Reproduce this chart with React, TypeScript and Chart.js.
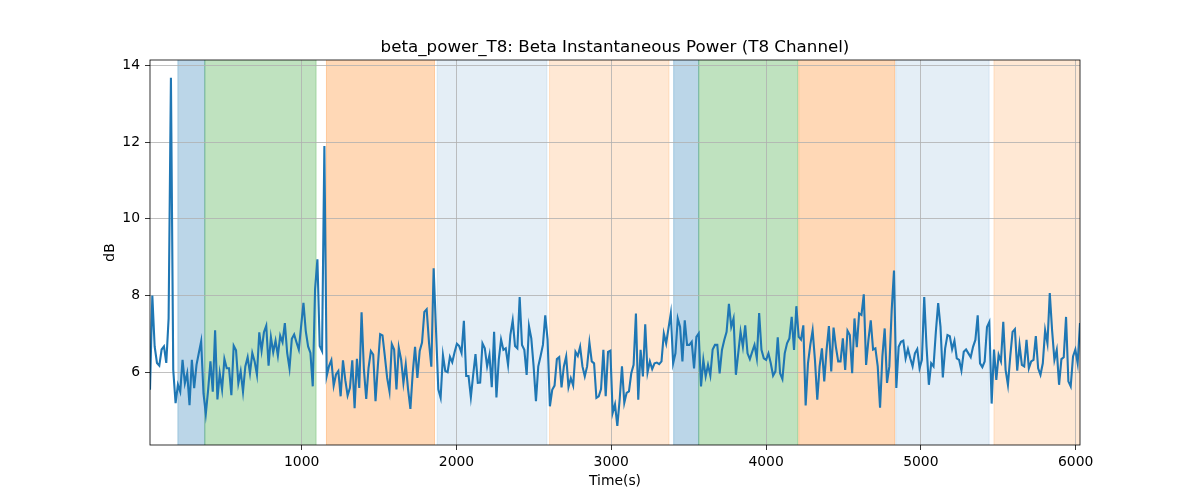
import React, { useEffect, useRef } from "react";
import { Chart, registerables } from "chart.js";

Chart.register(...registerables);

const chartTitle = "beta_power_T8: Beta Instantaneous Power (T8 Channel)";
const xLabel = "Time(s)";
const yLabel = "dB";

// sampling of the time axis (seconds)
const tStart = 20;
const tStep = 15.02;

// beta power (dB), one value per sample
const power: number[] = [
  // 20 s .. ~1040 s
  5.54, 8.0, 6.67, 6.24, 6.17, 6.59, 6.67, 6.24, 7.4, 13.68,
  6.06, 5.19, 5.67, 5.49, 6.32, 5.71, 5.97, 5.14, 6.32, 5.58,
  6.19, 6.5, 6.8, 5.45, 4.91, 5.54, 6.28, 5.49, 7.09, 5.29,
  5.97, 5.55, 6.34, 6.1, 6.1, 5.4, 6.69, 6.57, 5.71, 6.02,
  5.49, 6.15, 6.39, 5.97, 6.5, 6.28, 5.93, 7.04, 6.56, 7.04,
  7.21, 6.17, 6.91, 6.52, 6.82, 6.43, 6.95, 6.78, 7.28, 6.5,
  6.1, 6.87, 6.98, 6.78, 6.59, 7.2, 7.81, 7.07, 6.67,
  // segment 2
  6.5, 5.63, 8.17, 8.94, 6.68, 6.55, 11.9, 5.9, 6.16, 6.31,
  5.65, 5.94, 6.03, 5.37, 6.31, 5.79, 5.39, 5.59, 6.31, 5.06,
  6.35, 5.59, 7.56, 6.07, 5.3, 6.11, 6.55, 6.46, 5.24, 6.16,
  6.99, 6.96, 6.42, 5.85, 5.5, 6.73, 6.59, 5.55, 6.64, 6.33,
  5.72, 6.2, 5.55, 5.04, 5.98, 6.66, 5.85, 6.55, 6.77, 7.57,
  7.64, 6.77, 6.14, 8.71, 7.12, 5.55, 5.33, 6.44, 6.03, 6.0,
  6.4, 6.26, 6.52, 6.74, 6.68, 6.5, 7.34, 5.9, 5.9,
  // segment 3
  5.35, 5.93, 6.47, 5.72, 5.73, 6.75, 6.62, 6.15, 6.45, 5.61,
  7.05, 5.34, 6.32, 6.85, 6.58, 6.62, 6.19, 6.97, 7.35, 6.68,
  6.62, 7.96, 6.71, 6.58, 5.93, 7.2, 6.88, 6.15, 5.24, 6.15,
  6.42, 6.71, 7.48, 6.85, 5.11, 5.54, 5.65, 6.34, 6.39, 5.6,
  6.15, 6.41, 5.61, 5.84, 5.65, 6.53, 6.42, 6.66, 6.15, 5.89,
  6.15, 6.77, 6.28, 6.23, 5.33, 5.37, 5.56, 6.58, 5.37, 6.53,
  6.56, 4.94, 5.16, 4.6, 5.28, 6.15, 5.2, 5.46, 5.5,
  // segment 4
  5.97, 6.19, 7.53, 5.28, 6.58, 5.89, 7.25, 5.99, 6.28, 6.08,
  6.23, 6.25, 6.21, 6.28, 7.01, 6.75, 7.14, 7.53, 6.23, 6.49,
  7.4, 7.18, 6.28, 7.35, 6.71, 6.71, 6.79, 6.1, 6.92, 7.01,
  5.63, 6.32, 5.89, 6.19, 5.91, 6.59, 6.71, 6.71, 5.97, 6.58,
  6.84, 7.05, 7.78, 7.18, 7.4, 5.93, 6.49, 7.05, 6.66, 7.22,
  6.49, 6.34, 6.53, 6.71, 6.36, 7.54, 6.58, 6.36, 6.32, 6.49,
  6.23, 5.91, 6.02, 6.91, 5.97, 5.82, 6.49, 6.75, 6.88,
  // segment 5
  7.44, 6.58, 7.72, 6.92, 6.85, 7.22, 5.13, 6.23, 6.71, 7.09,
  6.32, 5.28, 6.15, 6.62, 5.76, 6.58, 7.2, 6.02, 7.16, 6.66,
  6.28, 6.28, 6.88, 6.06, 7.08, 6.97, 5.97, 7.4, 6.65, 7.53,
  7.49, 8.03, 6.19, 6.84, 7.35, 6.59, 6.62, 6.15, 5.07, 6.41,
  7.14, 5.72, 6.15, 7.61, 8.65, 5.59, 6.66, 6.79, 6.82, 6.36,
  6.6, 6.36, 6.15, 6.49, 6.6, 6.1, 6.32, 7.96, 6.66, 5.67,
  6.23, 6.15, 7.05, 7.8, 7.18, 5.86, 6.62, 6.97, 6.94,
  // segment 6
  6.6, 6.82, 6.36, 6.32, 6.04, 6.53, 6.59, 6.49, 6.39, 6.66,
  6.84, 7.48, 6.23, 6.13, 6.28, 7.18, 7.31, 5.18, 6.59, 5.8,
  6.45, 6.28, 7.31, 6.06, 5.67, 6.41, 7.05, 7.12, 6.04, 6.71,
  6.19, 6.15, 6.84, 6.1, 6.28, 6.32, 6.94, 6.1, 5.93, 6.23,
  7.09, 6.75, 8.06, 7.09, 6.32, 6.58, 5.67, 6.34, 6.39, 7.44,
  5.76, 5.63, 6.41, 6.59, 6.23, 7.28,
];

const xTicks = [1000, 2000, 3000, 4000, 5000, 6000];
const yTicks = [6, 8, 10, 12, 14];
const yMin = 4.1;
const yMax = 14.14;

// shaded phases (seconds)
const spanStarts = [200, 374, 1160, 1875, 2601, 3403, 3565, 4211, 4838, 5472];
const spanEnds = [374, 1093, 1858, 2584, 3373, 3565, 4205, 4831, 5441, 6040];
const spanKinds = ["blue", "green", "orange", "lightblue", "lightorange", "blue", "green", "orange", "lightblue", "lightorange"];

const spanColors: Record<string, string> = {
  blue: "rgba(31,119,180,0.3)",
  green: "rgba(44,160,44,0.3)",
  orange: "rgba(255,127,14,0.3)",
  lightblue: "rgba(31,119,180,0.12)",
  lightorange: "rgba(255,127,14,0.18)",
};

const FONT = "'DejaVu Sans', 'Liberation Sans', sans-serif";

const decorPlugin = {
  id: "decor",
  beforeDraw(chart: any) {
    const { ctx, chartArea: a, scales } = chart;
    const x = scales.x;
    ctx.save();
    ctx.beginPath();
    ctx.rect(a.left, a.top, a.right - a.left, a.bottom - a.top);
    ctx.clip();
    spanStarts.forEach((s, i) => {
      const x0 = x.getPixelForValue(s);
      const x1 = x.getPixelForValue(spanEnds[i]);
      const col = spanColors[spanKinds[i]];
      ctx.fillStyle = col;
      ctx.fillRect(x0, a.top - 2, x1 - x0, a.bottom - a.top + 4);
      ctx.strokeStyle = col;
      ctx.lineWidth = 1;
      ctx.strokeRect(x0, a.top - 2, x1 - x0, a.bottom - a.top + 4);
    });
    ctx.restore();
  },
  afterDatasetsDraw(chart: any) {
    const { ctx, chartArea: a } = chart;
    ctx.save();
    ctx.strokeStyle = "#000";
    ctx.lineWidth = 0.8;
    ctx.strokeRect(a.left, a.top, a.right - a.left, a.bottom - a.top);
    ctx.restore();
  },
  afterDraw(chart: any) {
    const { ctx, chartArea: a } = chart;
    const cx = (a.left + a.right) / 2;
    const cy = (a.top + a.bottom) / 2;
    ctx.save();
    ctx.fillStyle = "#000";
    ctx.font = `16.7px ${FONT}`;
    ctx.textAlign = "center";
    ctx.textBaseline = "alphabetic";
    ctx.fillText(chartTitle, cx, a.top - 8.3);
    ctx.font = `13.9px ${FONT}`;
    ctx.textBaseline = "middle";
    ctx.fillText(xLabel, cx, 481);
    ctx.translate(110.5, cy);
    ctx.rotate(-Math.PI / 2);
    ctx.fillText(yLabel, 0, 0);
    ctx.restore();
  },
};

export default function App() {
  const ref = useRef<HTMLCanvasElement | null>(null);

  useEffect(() => {
    if (!ref.current) return;
    const points = power.map((v, i) => ({ x: tStart + tStep * i, y: v }));
    const xMax = tStart + tStep * (power.length - 1);
    const tickFont = { family: FONT, size: 13.9 };
    const chart = new Chart(ref.current, {
      type: "line",
      data: {
        datasets: [
          {
            data: points,
            borderColor: "#1f77b4",
            borderWidth: 2.1,
            pointRadius: 0,
            tension: 0,
            fill: false,
          },
        ],
      },
      options: {
        animation: false,
        responsive: false,
        devicePixelRatio: 1,
        layout: { padding: { top: 60, right: 120, left: 0, bottom: 0 } },
        plugins: {
          legend: { display: false },
          title: { display: false },
          tooltip: { enabled: false },
        },
        scales: {
          x: {
            type: "linear",
            min: tStart,
            max: xMax,
            afterBuildTicks: (s: any) => {
              s.ticks = xTicks.map((v) => ({ value: v }));
            },
            afterFit: (s: any) => {
              s.height = 55;
            },
            ticks: {
              font: tickFont,
              color: "#000",
              padding: 4,
              maxRotation: 0,
              autoSkip: false,
              callback: (v: any) => String(v),
            },
            grid: {
              color: "#b0b0b0",
              lineWidth: 0.8,
              tickColor: "#000",
              tickLength: 5,
              drawTicks: true,
            },
            border: { display: false },
          },
          y: {
            type: "linear",
            min: yMin,
            max: yMax,
            afterBuildTicks: (s: any) => {
              s.ticks = yTicks.map((v) => ({ value: v }));
            },
            afterFit: (s: any) => {
              s.width = 150;
            },
            ticks: {
              font: tickFont,
              color: "#000",
              padding: 5,
              autoSkip: false,
              callback: (v: any) => String(v),
            },
            grid: {
              color: "#b0b0b0",
              lineWidth: 0.8,
              tickColor: "#000",
              tickLength: 5,
              drawTicks: true,
            },
            border: { display: false },
          },
        },
      },
      plugins: [decorPlugin],
    });
    return () => chart.destroy();
  }, []);

  return (
    <div style={{ position: "fixed", left: 0, top: 0, width: 1200, height: 500, background: "#fff" }}>
      <canvas ref={ref} width={1200} height={500} style={{ display: "block" }} />
    </div>
  );
}
